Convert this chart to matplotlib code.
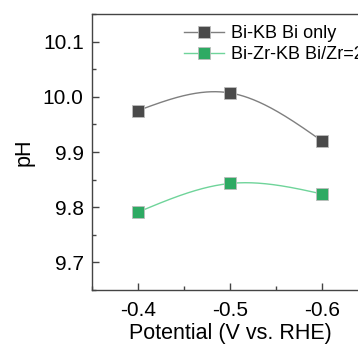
import numpy as np
import matplotlib
matplotlib.use("Agg")
import matplotlib.pyplot as plt
from matplotlib.ticker import MultipleLocator

plt.rcParams['font.family'] = ['Liberation Sans', 'DejaVu Sans']

# data
potential = [-0.4, -0.5, -0.6]
ph_bi = [9.975, 10.007, 9.920]
ph_bizr = [9.791, 9.843, 9.824]
labels = ["Bi-KB Bi only", "Bi-Zr-KB Bi/Zr=2"]
xticks = [-0.4, -0.5, -0.6]
yticks = [9.7, 9.8, 9.9, 10.0, 10.1]


def natural_spline(x, y, n=200):
    # natural cubic spline through the given points, used only to draw the connecting line
    x = np.asarray(x, float)
    y = np.asarray(y, float)
    order = np.argsort(x)
    x, y = x[order], y[order]
    k = len(x)
    h = np.diff(x)
    A = np.zeros((k, k))
    b = np.zeros(k)
    A[0, 0] = A[-1, -1] = 1
    for i in range(1, k - 1):
        A[i, i - 1] = h[i - 1]
        A[i, i] = 2 * (h[i - 1] + h[i])
        A[i, i + 1] = h[i]
        b[i] = 6 * ((y[i + 1] - y[i]) / h[i] - (y[i] - y[i - 1]) / h[i - 1])
    M = np.linalg.solve(A, b)
    xs = np.linspace(x[0], x[-1], n)
    ys = np.empty_like(xs)
    for j, t in enumerate(xs):
        i = min(np.searchsorted(x, t, side='right') - 1, k - 2)
        a, c = x[i + 1] - t, t - x[i]
        ys[j] = (M[i] * a**3 + M[i + 1] * c**3) / (6 * h[i]) \
            + (y[i] / h[i] - M[i] * h[i] / 6) * a \
            + (y[i + 1] / h[i] - M[i + 1] * h[i] / 6) * c
    return xs, ys


fig = plt.figure(figsize=(3.58, 3.45), dpi=100)
ax = fig.add_axes([92 / 358, 55 / 345, 276 / 358, 276 / 345])

series = [
    (ph_bi, '#7f7f7f', '#4a4a4a'),
    (ph_bizr, '#6fd49a', '#2eaa63'),
]
for (vals, lc, mc), lab in zip(series, labels):
    xs, ys = natural_spline(potential, vals)
    ax.plot(xs, ys, color=lc, lw=1.0, zorder=2)
    ax.plot(potential, vals, ls='none', marker='s', ms=8, color=mc,
            mec='#bdbdbd', mew=0.6, zorder=3)
    ax.plot([], [], color=lc, lw=1.0, marker='s', ms=8, mfc=mc,
            mec='#bdbdbd', mew=0.6, label=lab)

ax.set_xlim(-0.35, -0.65)
ax.set_ylim(9.65, 10.15)
ax.set_xticks(xticks)
ax.set_xticklabels([f"{v:.1f}" for v in xticks])
ax.set_yticks(yticks)
ax.set_yticklabels([f"{v:.1f}" for v in yticks])
ax.xaxis.set_minor_locator(MultipleLocator(0.05))
ax.yaxis.set_minor_locator(MultipleLocator(0.05))
ax.tick_params(which='both', direction='in', color='#444444', width=1,
               labelsize=15)
ax.tick_params(axis='y', pad=6)
ax.tick_params(axis='x', pad=8)
ax.tick_params(which='major', length=5)
ax.tick_params(which='minor', length=3)
for s in ax.spines.values():
    s.set_color('#444444')
    s.set_linewidth(1.0)

ax.set_xlabel("Potential (V vs. RHE)", fontsize=15.5, labelpad=2)
ax.set_ylabel("pH", fontsize=15.5, labelpad=6)

ax.legend(loc='upper left', bbox_to_anchor=(184 / 358, 1 - 25 / 345),
          bbox_transform=fig.transFigure, frameon=False, fontsize=13,
          handlelength=2.2, handletextpad=0.4, labelspacing=0.22,
          borderaxespad=0, borderpad=0)

fig.savefig("out.png", dpi=100)
